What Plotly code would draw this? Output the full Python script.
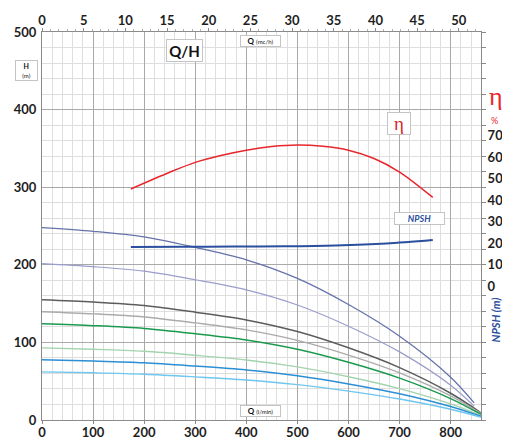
import plotly.graph_objects as go

# Flow rate points (l/min) for the Q/H curves
q_full = [0, 100, 200, 300, 400, 500, 600, 700, 800, 860]
q_short = [0, 100, 200, 300, 400, 500, 600, 700, 800, 846]

# Head values (m), one list per curve
h_16 = [248, 243.2, 236, 222.4, 206.4, 182.4, 148.8, 108, 55.2, 22.1]
h_13 = [201.5, 197.6, 191.8, 180.7, 167.7, 148.2, 120.9, 87.8, 44.9, 17.9]
h_10 = [155, 152, 147.5, 139, 129, 114, 93, 67.5, 34.5, 9]
h_9 = [139.5, 136.8, 132.8, 125.1, 116.1, 102.6, 83.7, 60.8, 31.1, 8]
h_8 = [124, 121.6, 118, 111.2, 103.2, 91.2, 74.4, 54, 27.6, 7]
h_6 = [93, 91.2, 88.5, 83.4, 77.4, 68.4, 55.8, 40.5, 20.7, 5.5]
h_5 = [77.5, 76, 73.8, 69.5, 64.5, 57, 46.5, 33.8, 17.3, 4.5]
h_4 = [62, 60.8, 59, 55.6, 51.6, 45.6, 37.2, 27, 13.8, 3.5]

# Efficiency (%) and NPSH (m)
q_eta = [174, 250, 300, 350, 400, 450, 500, 550, 600, 650, 700, 765]
eta = [45.2, 53.0, 57.6, 60.8, 63.3, 65.0, 65.7, 65.1, 63.3, 59.4, 53.1, 41.3]
q_npsh = [174, 274, 374, 474, 574, 674, 765]
npsh = [18.2, 18.25, 18.35, 18.5, 18.9, 19.8, 21.4]

# Tick labels
q_lmin_ticks = [0, 100, 200, 300, 400, 500, 600, 700, 800]
q_mch_ticks = [0, 5, 10, 15, 20, 25, 30, 35, 40, 45, 50]
h_ticks = [0, 100, 200, 300, 400, 500]
right_ticks = [0, 10, 20, 30, 40, 50, 60, 70]

curves = [
    (q_short, h_16, "#6672aa", 1.3),
    (q_short, h_13, "#9b9dcc", 1.2),
    (q_full, h_10, "#5c5c5c", 1.5),
    (q_full, h_9, "#ababab", 1.4),
    (q_full, h_8, "#1a9a4e", 1.5),
    (q_full, h_6, "#a3d4ad", 1.4),
    (q_full, h_5, "#2b8fd6", 1.5),
    (q_full, h_4, "#6fc6ef", 1.4),
]

fig = go.Figure()
for qx, hy, col, w in curves:
    fig.add_trace(go.Scatter(x=qx, y=hy, mode="lines",
                             line=dict(color=col, width=w, shape="spline", smoothing=0.9),
                             showlegend=False, hoverinfo="skip"))

fig.add_trace(go.Scatter(x=q_eta, y=eta, mode="lines", yaxis="y2",
                         line=dict(color="#e8262c", width=1.5, shape="spline", smoothing=0.9),
                         showlegend=False, hoverinfo="skip"))
fig.add_trace(go.Scatter(x=q_npsh, y=npsh, mode="lines", yaxis="y2",
                         line=dict(color="#2a4f9e", width=2, shape="spline", smoothing=0.9),
                         showlegend=False, hoverinfo="skip"))
# invisible helpers so the extra axes render
fig.add_trace(go.Scatter(x=[0], y=[0], xaxis="x2", mode="markers",
                         marker=dict(opacity=0), showlegend=False, hoverinfo="skip"))
fig.add_trace(go.Scatter(x=[0], y=[0], yaxis="y3", mode="markers",
                         marker=dict(opacity=0), showlegend=False, hoverinfo="skip"))

tick_font = dict(family="Lato", size=13, color="#1e1e1e", weight="bold")
axis_col = "#8a8a8a"
major_grid = "#a9a9a9"
minor_grid = "#dedede"

fig.update_layout(
    template="none",
    width=502, height=431,
    margin=dict(l=34, r=29, t=24, b=19, autoexpand=False),
    paper_bgcolor="white", plot_bgcolor="white",
    showlegend=False,
    xaxis=dict(range=[0, 859.4], tickvals=q_lmin_ticks, ticks="outside", ticklen=3,
               tickcolor=axis_col, ticklabelstandoff=-3,
               showgrid=True, gridcolor=major_grid, gridwidth=1,
               minor=dict(dtick=20, tick0=0, showgrid=True, gridcolor=minor_grid, gridwidth=1),
               showline=True, linecolor=axis_col, linewidth=1.2, zeroline=False,
               tickfont=tick_font, automargin=False),
    xaxis2=dict(range=[0, 52.66], overlaying="x", side="top", anchor="y",
                tickvals=q_mch_ticks,
                ticks="outside", ticklen=3, tickcolor=axis_col, ticklabelstandoff=-2,
                minor=dict(dtick=1, tick0=0, ticks="outside", ticklen=2, tickcolor="#b0b0b0", showgrid=False),
                showgrid=False, showline=True, linecolor=axis_col, linewidth=1.2, zeroline=False,
                tickfont=tick_font, automargin=False),
    yaxis=dict(range=[0, 500], tickvals=h_ticks, ticks="outside", ticklen=2,
               tickcolor="rgba(0,0,0,0)", showgrid=True, gridcolor=major_grid, gridwidth=1,
               minor=dict(dtick=20, tick0=0, showgrid=True, gridcolor=minor_grid, gridwidth=1),
               showline=True, linecolor=axis_col, linewidth=1.2, zeroline=False,
               tickfont=tick_font, automargin=False),
    yaxis2=dict(range=[-62.5, 118.4], overlaying="y", side="right", anchor="x",
                tickvals=right_ticks, ticks="outside", ticklen=3, tickcolor="rgba(0,0,0,0)",
                showgrid=False, zeroline=False, showline=False,
                tickfont=tick_font, automargin=False),
    yaxis3=dict(range=[0, 500], overlaying="y", side="right", anchor="x",
                dtick=20, tick0=0, ticks="outside", ticklen=4, tickcolor=axis_col,
                showticklabels=False, showgrid=False, zeroline=False,
                showline=True, linecolor=axis_col, linewidth=1.2, automargin=False),
)

box = dict(bordercolor="#c4c4c4", borderwidth=1, bgcolor="white", borderpad=0)
base = dict(xref="paper", yref="paper", showarrow=False, xanchor="center", yanchor="middle")
ann = []
ann.append(dict(x=0.3245, y=0.952, text="<b>Q/H</b>", width=35, height=21,
                font=dict(family="Lato", size=15, color="#111"), **box, **base))
ann.append(dict(x=0.4985, y=0.976, text="<b>Q</b> <span style='font-size:6px'>(mc/h)</span>",
                width=39, height=10,
                font=dict(family="Lato", size=8, color="#111"), **box, **base))
ann.append(dict(x=0.4985, y=0.024, text="<b>Q</b> <span style='font-size:6px'>(l/min)</span>",
                width=39, height=10,
                font=dict(family="Lato", size=8, color="#111"), **box, **base))
ann.append(dict(x=-0.0355, y=0.900, text="<b>H</b><br><span style='font-size:6px'>(m)</span>",
                width=21, height=19,
                font=dict(family="Lato", size=7, color="#111"), **box, **base))
ann.append(dict(x=0.814, y=0.764, text="η", width=22, height=21,
                font=dict(family="Liberation Serif", size=19, color="#d8262c"), **box, **base))
ann.append(dict(x=0.859, y=0.519, text="<b><i>NPSH</i></b>", width=49, height=11,
                font=dict(family="Lato", size=9, color="#2a4f9e"), **box, **base))
ann.append(dict(x=1.034, y=0.833, text="η",
                font=dict(family="Liberation Serif", size=26, color="#e8262c"), **base))
ann.append(dict(x=1.030, y=0.772, text="%",
                font=dict(family="Lato", size=9, color="#e8262c"), **base))
ann.append(dict(x=1.034, y=0.259, textangle=-90, text="<b><i>NPSH (m)</i></b>",
                font=dict(family="Lato", size=11, color="#2a4f9e"), **base))
fig.update_layout(annotations=ann)

fig.write_html("out.html")
